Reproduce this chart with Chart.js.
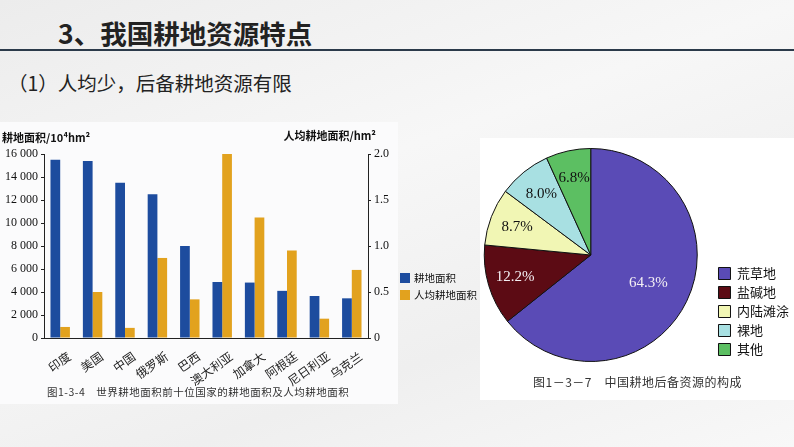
<!DOCTYPE html>
<html>
<head>
<meta charset="utf-8">
<script src="https://cdn.jsdelivr.net/npm/chart.js@4.4.1/dist/chart.umd.min.js"></script>
<style>
  html, body { margin: 0; padding: 0; }
  body {
    width: 794px; height: 447px; overflow: hidden; position: relative;
    background: linear-gradient(160deg, #ececec 0%, #f7f7f7 40%, #efefef 70%, #f8f8f8 100%);
    font-family: "Noto Sans CJK SC", sans-serif;
  }
  .title { position: absolute; left: 58px; top: 13px; font-size: 26.5px; font-weight: bold; color: #222; }
  .rule { position: absolute; left: 0; top: 49px; width: 794px; height: 2px; background: #2b3a4a; }
  .sub { position: absolute; left: 8px; top: 68px; font-size: 19.5px; color: #222; }
  .panel { position: absolute; background: #fbfbfc; }
  canvas { position: absolute; }
  .cap { position: absolute; font-size: 10.5px; color: #333; letter-spacing: 0.5px; white-space: nowrap; }
</style>
</head>
<body>
<div class="title">3、我国耕地资源特点</div>
<div class="rule"></div>
<div class="sub">（1）人均少，后备耕地资源有限</div>

<div class="panel" style="left:0;top:122px;width:398px;height:282px;"></div>
<div class="panel" style="left:480px;top:138px;width:314px;height:262px;background:#fff;"></div>

<canvas id="barChart" width="480" height="270" style="left:0;top:120px;"></canvas>
<canvas id="pieChart" width="330" height="222" style="left:469px;top:144px;"></canvas>

<div class="cap" style="left:47px;top:384px;">图1-3-4　世界耕地面积前十位国家的耕地面积及人均耕地面积</div>
<div class="cap" style="left:533px;top:373px;font-size:12px;">图1－3－7　中国耕地后备资源的构成</div>

<script>
// bar chart data
const countries = ['印度', '美国', '中国', '俄罗斯', '巴西', '澳大利亚', '加拿大', '阿根廷', '尼日利亚', '乌克兰'];
const landArea = [15500, 15400, 13500, 12500, 8000, 4870, 4820, 4100, 3650, 3450];
const landPerCapita = [0.12, 0.5, 0.11, 0.87, 0.42, 2.0, 1.31, 0.95, 0.21, 0.74];

// pie chart data
const reserveTypes = ['荒草地', '盐碱地', '内陆滩涂', '裸地', '其他'];
const reserveShares = [64.3, 12.2, 8.7, 8.0, 6.8];

const cjk = '"Noto Sans CJK SC", sans-serif';
const serif = '"Liberation Serif", "DejaVu Serif", serif';

const barExtras = {
    id: 'barExtras',
    afterDraw(chart) {
        const ctx = chart.ctx;
        const area = chart.chartArea;
        ctx.save();
        ctx.fillStyle = '#111';
        ctx.font = 'bold 11px ' + cjk;
        ctx.textBaseline = 'middle';
        ctx.textAlign = 'left';
        ctx.fillText('耕地面积/10⁴hm²', 2, area.top - 16);
        ctx.textAlign = 'right';
        ctx.fillText('人均耕地面积/hm²', area.right + 8, area.top - 18);

        // legend to the right of the plot
        const x = area.right + 32;
        let y = area.top + 124;
        ctx.textAlign = 'left';
        ctx.font = '10.5px ' + cjk;
        chart.data.datasets.forEach(ds => {
            ctx.fillStyle = ds.backgroundColor;
            ctx.fillRect(x, y - 5, 10, 10);
            ctx.fillStyle = '#111';
            ctx.fillText(ds.label, x + 14, y);
            y += 17;
        });
        ctx.restore();
    }
};

new Chart(document.getElementById('barChart'), {
    type: 'bar',
    data: {
        labels: countries,
        datasets: [
            { label: '耕地面积', data: landArea, backgroundColor: '#1d4c9e', yAxisID: 'y' },
            { label: '人均耕地面积', data: landPerCapita, backgroundColor: '#e2a21e', yAxisID: 'y1' }
        ]
    },
    options: {
        responsive: false,
        animation: false,
        categoryPercentage: 0.6,
        barPercentage: 1.0,
        layout: { padding: { top: 34, right: 88, left: 0, bottom: 0 } },
        plugins: { legend: { display: false }, tooltip: { enabled: false } },
        scales: {
            x: {
                grid: { display: false },
                border: { display: true, color: '#222', width: 1 },
                ticks: {
                    color: '#222', font: { family: cjk, size: 12 },
                    autoSkip: false,
                    minRotation: 35, maxRotation: 35, padding: 3, labelOffset: 9
                },
                afterFit: scale => { scale.height = 52; }
            },
            y: {
                position: 'left',
                min: 0, max: 16000,
                grid: { drawOnChartArea: false, drawTicks: true, tickLength: 3, color: '#222' },
                border: { display: true, color: '#222', width: 1 },
                ticks: {
                    stepSize: 2000, color: '#111', padding: 3,
                    font: { family: serif, size: 12 },
                    callback: v => v >= 1000 ? Math.floor(v / 1000) + ' ' + String(v % 1000).padStart(3, '0') : String(v)
                },
                afterFit: scale => { scale.width = 44; }
            },
            y1: {
                position: 'right',
                min: 0, max: 2,
                grid: { drawOnChartArea: false, drawTicks: true, tickLength: 3, color: '#222' },
                border: { display: true, color: '#222', width: 1 },
                ticks: {
                    stepSize: 0.5, color: '#111', padding: 3,
                    font: { family: serif, size: 12 },
                    callback: v => v === 0 ? '0' : v.toFixed(1)
                },
                afterFit: scale => { scale.width = 24; }
            }
        }
    },
    plugins: [barExtras]
});

const pieLabels = {
    id: 'pieLabels',
    afterDatasetsDraw(chart) {
        const ctx = chart.ctx;
        const meta = chart.getDatasetMeta(0);
        ctx.save();
        ctx.font = '15px ' + serif;
        ctx.textAlign = 'center';
        ctx.textBaseline = 'middle';
        meta.data.forEach((arc, i) => {
            const mid = (arc.startAngle + arc.endAngle) / 2;
            const r = arc.outerRadius * (i === 0 ? 0.6 : 0.74);
            ctx.fillStyle = i < 2 ? '#f4f0f4' : '#111';
            ctx.fillText(reserveShares[i].toFixed(1) + '%', arc.x + Math.cos(mid) * r, arc.y + Math.sin(mid) * r);
        });
        ctx.restore();
    }
};

new Chart(document.getElementById('pieChart'), {
    type: 'pie',
    data: {
        labels: reserveTypes,
        datasets: [{
            data: reserveShares,
            backgroundColor: ['#5a4bb6', '#5c0b14', '#f1f6b4', '#a8e0e2', '#5cbf62'],
            borderColor: '#111',
            borderWidth: 1
        }]
    },
    options: {
        responsive: false,
        animation: false,
        layout: { padding: { top: 4, bottom: 4, left: 0, right: 0 } },
        plugins: {
            tooltip: { enabled: false },
            legend: {
                position: 'right',
                align: 'end',
                labels: {
                    boxWidth: 12, boxHeight: 12, padding: 6,
                    color: '#111', font: { family: cjk, size: 13 }
                }
            }
        }
    },
    plugins: [pieLabels]
});
</script>
</body>
</html>
